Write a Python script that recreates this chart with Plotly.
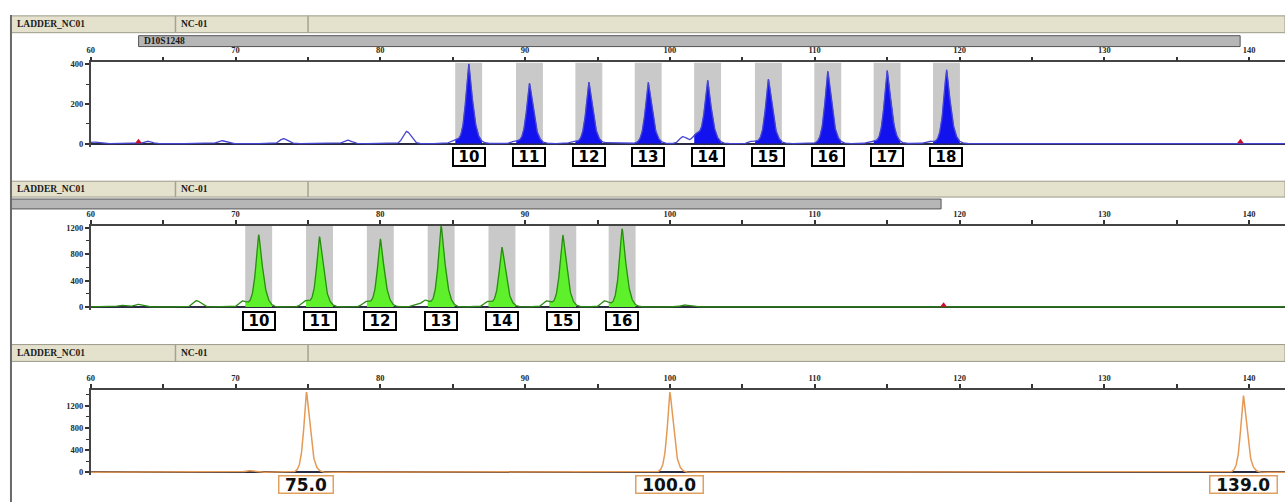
import numpy as np
import plotly.graph_objects as go

W, H = 1285, 504

# ------------------------------------------------------------------ data
x_tick_values = [60, 65, 70, 75, 80, 85, 90, 95, 100, 105, 110, 115, 120, 125, 130, 135, 140]
x_tick_labels = ["60", "", "70", "", "80", "", "90", "", "100", "", "110", "", "120", "", "130", "", "140"]

sample_name = "LADDER_NC01"
sample_id = "NC-01"
marker_name = "D10S1248"

# Panel 1 - D10S1248 (blue dye)
blue_alleles = ["10", "11", "12", "13", "14", "15", "16", "17", "18"]
blue_peak_bp = [86.1, 90.3, 94.4, 98.5, 102.6, 106.8, 110.9, 115.0, 119.1]
blue_peak_rfu = [405, 305, 310, 310, 320, 325, 365, 370, 375]
blue_minor_bp = [60.2, 63.9, 69.0, 73.3, 77.7, 81.8, 85.1, 89.3, 93.3, 95.9, 100.9, 101.8, 105.7, 113.9, 117.9]
blue_minor_rfu = [8, 12, 15, 25, 18, 62, 18, 12, 10, 5, 35, 45, 12, 12, 12]
blue_flag_bp = [63.3, 139.4]
blue_flag_rfu = [9, 9]

# Panel 2 - green dye
green_alleles = ["10", "11", "12", "13", "14", "15", "16"]
green_peak_bp = [71.6, 75.8, 80.0, 84.2, 88.4, 92.6, 96.7]
green_peak_rfu = [1095, 1065, 1035, 1230, 905, 1095, 1185]
green_minor_bp = [62.1, 63.2, 67.3, 70.5, 74.8, 79.0, 82.4, 83.1, 87.4, 91.5, 95.5, 101.0, 106.3]
green_minor_rfu = [25, 40, 95, 90, 90, 80, 30, 100, 80, 90, 90, 30, 10]
green_flag_bp = [118.9]
green_flag_rfu = [25]

# Panel 3 - size standard (orange)
size_labels = ["75.0", "100.0", "139.0"]
size_peak_bp = [74.9, 100.0, 139.6]
size_peak_rfu = [1450, 1450, 1400]
size_minor_bp = [70.9, 94.0]
size_minor_rfu = [30, 10]

# ------------------------------------------------------------------ helpers
def px(x):
    return x / W


def py(y):
    return 1 - y / H


X_RANGE = [60, 60 + (W - 87) / 14.525]
grid = np.linspace(X_RANGE[0], X_RANGE[1], 4000)


def peak(c, h, s, p=1.4):
    d = grid - c
    sl = np.where(d < 0, s * 0.9, s * 1.15)
    return h * np.exp(-np.abs(d / sl) ** p)


def signal(main_bp, main_rfu, minor_bp, minor_rfu, s_main=0.33, s_minor=0.38):
    y = np.zeros_like(grid)
    for c, h in zip(main_bp, main_rfu):
        y += peak(c, h, s_main)
    for c, h in zip(minor_bp, minor_rfu):
        y += peak(c, h, s_minor, p=2.0)
    return y


BIN_HALF = 0.93

panels = [
    dict(top=60, bottom=145, rng=[-15, 410], tickvals=[0, 200, 400], minor=100),
    dict(top=225, bottom=310, rng=[-45, 1230], tickvals=[0, 400, 800, 1200], minor=200),
    dict(top=391, bottom=477, rng=[-54, 1485], tickvals=[0, 400, 800, 1200], minor=200),
]

fig = go.Figure()
shapes = []
annotations = []

HEADER_BG = "#e4e1cd"
HEADER_LINE = "#9c9a8a"
BAR_GRAY = "#b6b6b6"

# ------------------------------------------------------------------ traces
def add_filled_panel(idx, peaks_bp, peaks_rfu, minor_bp, minor_rfu, fill, line, alleles, label_y):
    xa = "x" if idx == 1 else f"x{idx}"
    ya = "y" if idx == 1 else f"y{idx}"
    sig = signal(peaks_bp, peaks_rfu, minor_bp, minor_rfu)
    top = panels[idx - 1]["rng"][1]
    for c in peaks_bp:
        shapes.append(dict(type="rect", xref=xa, yref=ya, x0=c - BIN_HALF, x1=c + BIN_HALF,
                           y0=0, y1=top, fillcolor="#c9c9c9", line=dict(width=0), layer="below"))
        m = (grid >= c - BIN_HALF) & (grid <= c + BIN_HALF)
        fig.add_trace(go.Scatter(x=grid[m], y=sig[m], mode="lines", fill="tozeroy",
                                 fillcolor=fill, line=dict(color=fill, width=0.5),
                                 xaxis=xa, yaxis=ya, hoverinfo="skip", showlegend=False))
    fig.add_trace(go.Scatter(x=grid, y=sig, mode="lines", line=dict(color=line, width=1.3),
                             xaxis=xa, yaxis=ya, hoverinfo="skip", showlegend=False))
    for c, lab in zip(peaks_bp, alleles):
        annotations.append(dict(xref=xa, yref="paper", x=c, y=py(label_y), text=f"<b>{lab}</b>",
                                showarrow=False, font=dict(family="DejaVu Sans", size=15, color="#000"),
                                bgcolor="#ffffff", bordercolor="#000000", borderwidth=2, borderpad=1,
                                width=28, height=14, xanchor="center", yanchor="middle"))


add_filled_panel(1, blue_peak_bp, blue_peak_rfu, blue_minor_bp, blue_minor_rfu,
                 "#1212ee", "#4646d2", blue_alleles, 156)
fig.add_trace(go.Scatter(x=blue_flag_bp, y=blue_flag_rfu, mode="markers",
                         marker=dict(symbol="triangle-up", size=6, color="#c8102e"),
                         xaxis="x", yaxis="y", hoverinfo="skip", showlegend=False))

add_filled_panel(2, green_peak_bp, green_peak_rfu, green_minor_bp, green_minor_rfu,
                 "#5ef02a", "#2a8c12", green_alleles, 321)
fig.add_trace(go.Scatter(x=green_flag_bp, y=green_flag_rfu, mode="markers",
                         marker=dict(symbol="triangle-up", size=6, color="#c8102e"),
                         xaxis="x2", yaxis="y2", hoverinfo="skip", showlegend=False))

size_sig = signal(size_peak_bp, size_peak_rfu, size_minor_bp, size_minor_rfu, s_main=0.3)
fig.add_trace(go.Scatter(x=grid, y=size_sig, mode="lines", line=dict(color="#e49a55", width=1.5),
                         xaxis="x3", yaxis="y3", hoverinfo="skip", showlegend=False))
for c, lab in zip(size_peak_bp, size_labels):
    annotations.append(dict(xref="x3", yref="paper", x=c, y=py(486), text=f"<b>{lab}</b>",
                            showarrow=False, font=dict(family="DejaVu Sans", size=17, color="#111"),
                            bgcolor="#ffffff", bordercolor="#e0a060", borderwidth=1.5, borderpad=1,
                            width=12.5 * len(lab) + 1, height=14, xanchor="center", yanchor="middle"))

# ------------------------------------------------------------------ headers
def header(y0, y1):
    shapes.append(dict(type="rect", xref="paper", yref="paper", x0=px(7), x1=1, y0=py(y1), y1=py(y0),
                       fillcolor=HEADER_BG, line=dict(color=HEADER_LINE, width=1), layer="above"))
    for xd in (172, 305):
        shapes.append(dict(type="line", xref="paper", yref="paper", x0=px(xd), x1=px(xd),
                           y0=py(y1), y1=py(y0), line=dict(color="#a4a294", width=1.5)))
    yc = py((y0 + y1) / 2)
    annotations.append(dict(xref="paper", yref="paper", x=px(11), y=yc, text=f"<b>{sample_name}</b>",
                            showarrow=False, xanchor="left", yanchor="middle",
                            font=dict(family="Liberation Serif", size=9.5, color="#1a1a1a")))
    annotations.append(dict(xref="paper", yref="paper", x=px(176), y=yc, text=f"<b>{sample_id}</b>",
                            showarrow=False, xanchor="left", yanchor="middle",
                            font=dict(family="Liberation Serif", size=9.5, color="#1a1a1a")))


header(13, 30)
header(180, 196)
header(345, 362)

# marker bar panel 1
shapes.append(dict(type="rect", xref="paper", yref="paper", x0=px(135), x1=px(1240), y0=py(44), y1=py(33),
                   fillcolor=BAR_GRAY, line=dict(color="#555555", width=1)))
annotations.append(dict(xref="paper", yref="paper", x=px(138), y=py(38.5), text=f"<b>{marker_name}</b>",
                        showarrow=False, xanchor="left", yanchor="middle",
                        font=dict(family="Liberation Serif", size=9.5, color="#1a1a1a")))
# gray bar panel 2
shapes.append(dict(type="rect", xref="paper", yref="paper", x0=px(7), x1=px(940), y0=py(208), y1=py(198),
                   fillcolor=BAR_GRAY, line=dict(color="#555555", width=1)))

# frame lines
shapes.append(dict(type="line", xref="paper", yref="paper", x0=px(7), x1=px(7), y0=0, y1=py(12),
                   line=dict(color="#6a6a6a", width=2)))

# ------------------------------------------------------------------ axes
tick_font = dict(family="Liberation Serif", size=8.5, color="#2a2a2a", weight="bold")
layout_axes = {}
for i, p in enumerate(panels, start=1):
    xa = "xaxis" if i == 1 else f"xaxis{i}"
    ya = "yaxis" if i == 1 else f"yaxis{i}"
    yname = "y" if i == 1 else f"y{i}"
    xname = "x" if i == 1 else f"x{i}"
    layout_axes[xa] = dict(domain=[px(87), 1], range=X_RANGE, anchor=yname, side="top",
                           tickmode="array", tickvals=x_tick_values, ticktext=x_tick_labels,
                           ticks="outside", ticklen=4, tickwidth=1.5, tickcolor="#333",
                           showline=True, linecolor="#444", linewidth=1.5, showgrid=False,
                           zeroline=False, tickfont=tick_font, fixedrange=True)
    layout_axes[ya] = dict(domain=[py(p["bottom"]), py(p["top"])], range=p["rng"], anchor=xname,
                           tickmode="array", tickvals=p["tickvals"],
                           ticktext=[str(v) for v in p["tickvals"]],
                           ticks="outside", ticklen=4, tickwidth=1.5, tickcolor="#333",
                           minor=dict(ticks="outside", ticklen=3, dtick=p["minor"], tick0=0,
                                      tickcolor="#333", tickwidth=1),
                           showline=True, linecolor="#444", linewidth=1.5, showgrid=False,
                           zeroline=True, zerolinecolor="#2a2a40", zerolinewidth=1.5,
                           tickfont=tick_font, fixedrange=True)

fig.update_layout(
    width=W, height=H, margin=dict(l=0, r=0, t=0, b=0),
    paper_bgcolor="#ffffff", plot_bgcolor="#ffffff",
    shapes=shapes, annotations=annotations, showlegend=False,
    **layout_axes,
)

fig.write_html(
    "out.html",
    config={"displayModeBar": False},
    post_script="document.body.style.margin='0';document.body.style.padding='0';"
                "document.body.style.overflow='hidden';",
)
